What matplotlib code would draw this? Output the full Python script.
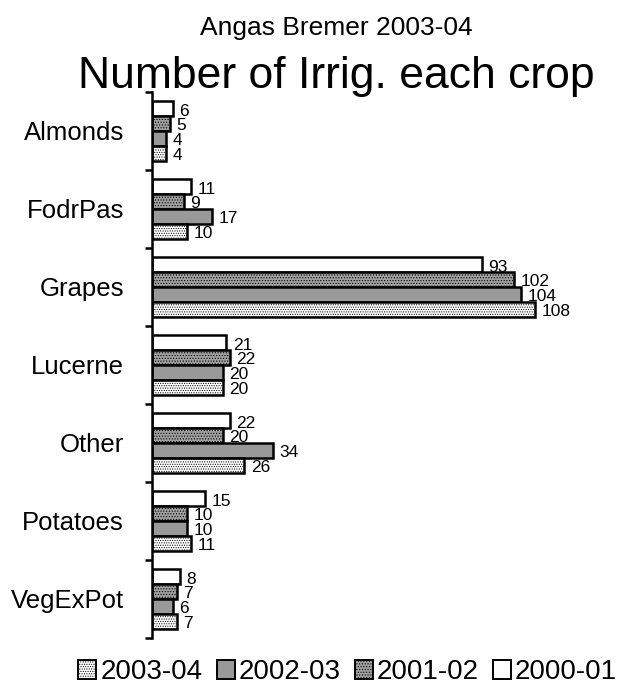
import numpy as np
import matplotlib
matplotlib.use('Agg')
import matplotlib.pyplot as plt
from matplotlib.patches import Patch

plt.rcParams['font.family'] = ['Liberation Sans', 'DejaVu Sans']
plt.rcParams['hatch.linewidth'] = 0.5

# Data
crops = ['Almonds', 'FodrPas', 'Grapes', 'Lucerne', 'Other', 'Potatoes', 'VegExPot']
seasons = ['2000-01', '2001-02', '2002-03', '2003-04']
irr_2000_01 = [6, 11, 93, 21, 22, 15, 8]
irr_2001_02 = [5, 9, 102, 22, 20, 10, 7]
irr_2002_03 = [4, 17, 104, 20, 34, 10, 6]
irr_2003_04 = [4, 10, 108, 20, 26, 11, 7]

series = [irr_2000_01, irr_2001_02, irr_2002_03, irr_2003_04]
styles = [
    dict(facecolor='white', hatch=None),
    dict(facecolor='#a0a0a0', hatch='......'),
    dict(facecolor='#999999', hatch=None),
    dict(facecolor='white', hatch='.......'),
]

fig = plt.figure(figsize=(6.2, 7), dpi=100)
ax = fig.add_axes([0.245, 0.0886, 0.716, 0.78])

y = np.arange(len(crops))
h = 0.19
offsets = [-1.5 * h, -0.5 * h, 0.5 * h, 1.5 * h]
handles = []
for vals, st, off, name in zip(series, styles, offsets, seasons):
    bars = ax.barh(y + off, vals, height=h, color=st['facecolor'], hatch=st['hatch'],
                   edgecolor='black', linewidth=1.8)
    for b, v in zip(bars, vals):
        ax.text(b.get_width() + 1.8, b.get_y() + b.get_height() / 2 + 0.03, str(v),
                va='center', ha='left', fontsize=12.5)
    handles.append(Patch(facecolor=st['facecolor'], hatch=st['hatch'], edgecolor='black',
                         linewidth=1.4, label=name))

ax.set_ylim(len(crops) - 0.5, -0.5)
ax.set_xlim(0, 125)
ax.set_yticks(y)
ax.set_yticklabels(crops, fontsize=18.5)
ax.set_yticks(np.arange(len(crops) + 1) - 0.5, minor=True)
ax.tick_params(axis='y', which='major', length=0, pad=20)
ax.tick_params(axis='y', which='minor', length=5, width=1.8, direction='out')
ax.set_xticks([])
for side in ['top', 'right', 'bottom']:
    ax.spines[side].set_visible(False)
ax.spines['left'].set_linewidth(1.8)

fig.text(0.542, 1 - 35 / 700, 'Angas Bremer 2003-04', ha='center', va='baseline', fontsize=19)
fig.text(0.542, 1 - 88 / 700, 'Number of Irrig. each crop', ha='center', va='baseline', fontsize=32)

fig.legend(handles=handles[::-1], loc='center', bbox_to_anchor=(0.561, 0.04), ncol=4,
           frameon=False, fontsize=20, handlelength=0.65, handleheight=0.65,
           handletextpad=0.15, columnspacing=0.5)

fig.savefig('out.png', dpi=100)
